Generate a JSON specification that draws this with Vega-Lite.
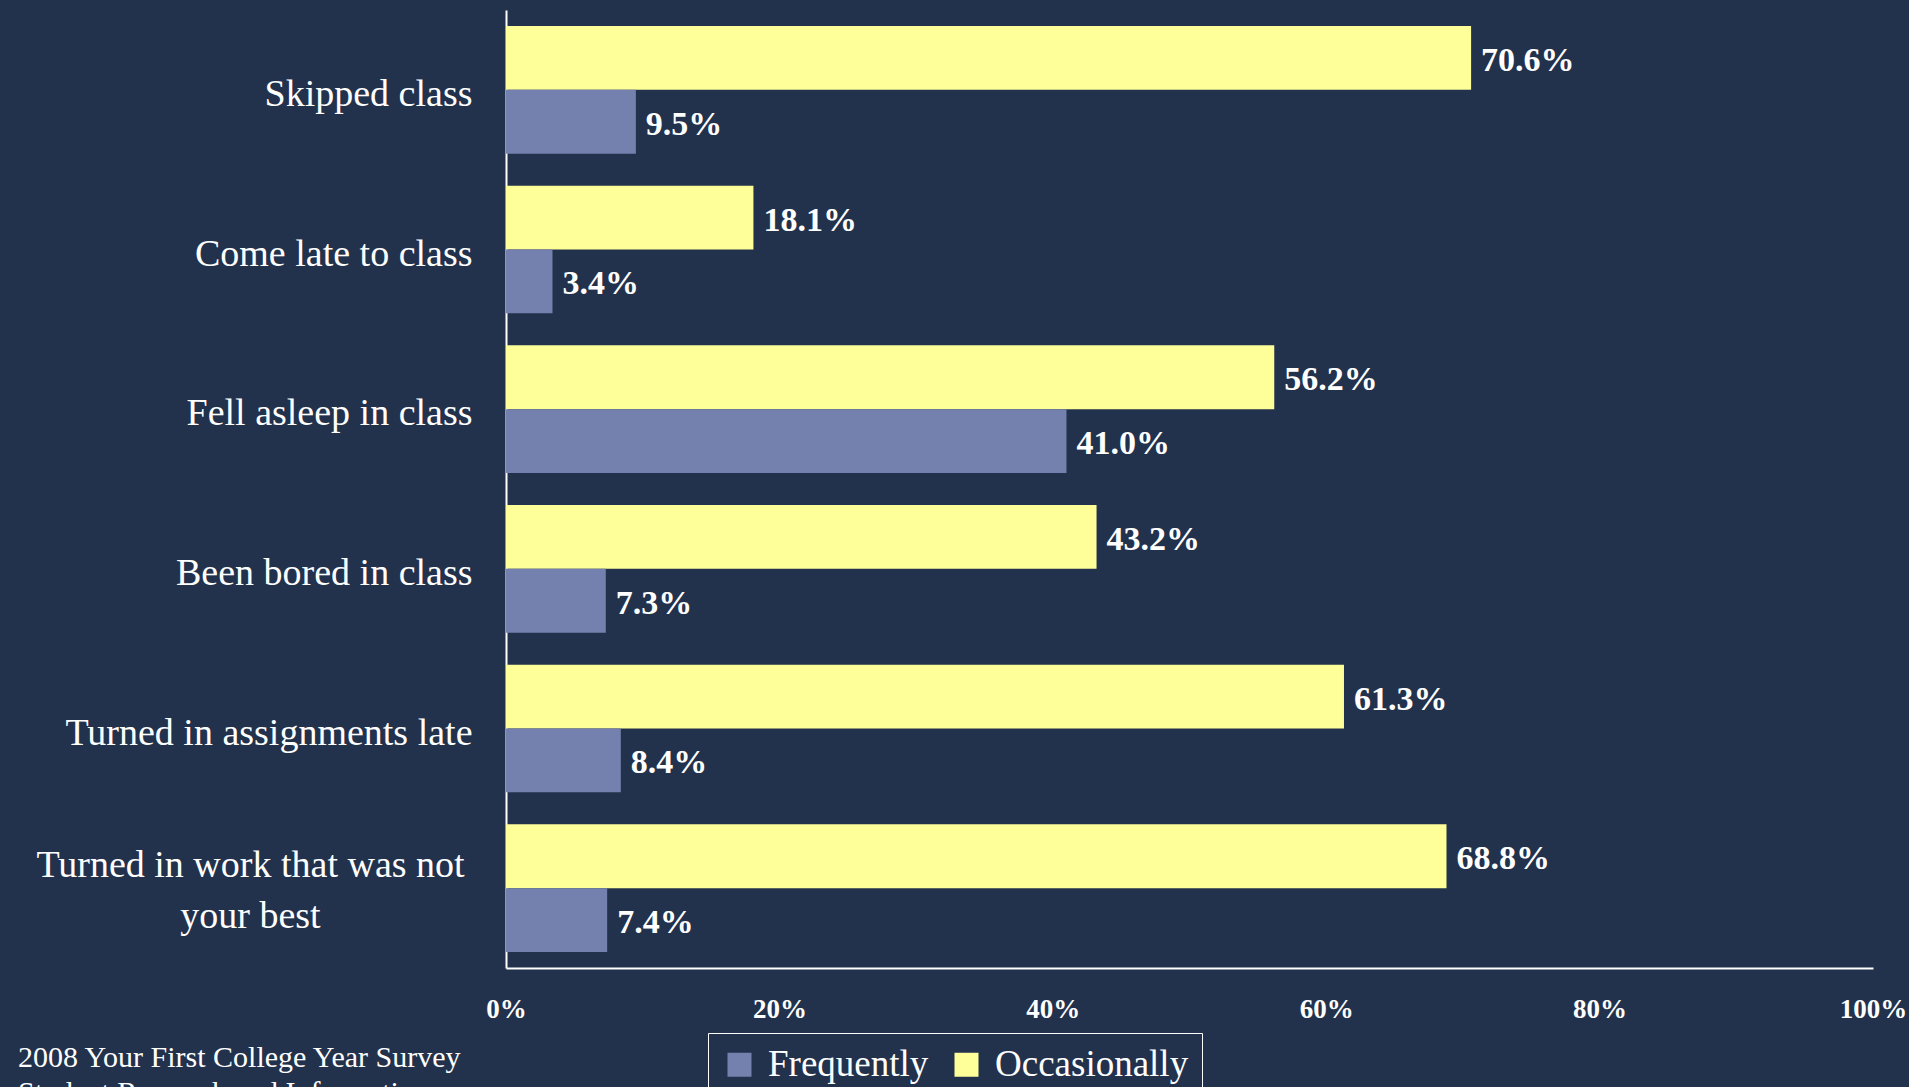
{
  "$schema": "https://vega.github.io/schema/vega-lite/v6.json",
  "background": "#22324D",
  "width": 1367,
  "height": 958,
  "autosize": {"type": "none"},
  "padding": {"left": 506, "top": 10, "right": 36, "bottom": 119},
  "config": {
    "view": {"stroke": null},
    "font": "Liberation Serif",
    "legend": {"strokeColor": "#FFFFFF"}
  },
  "title": {
    "text": ["2008 Your First College Year Survey", "Student Research and Information"],
    "orient": "bottom",
    "anchor": "start",
    "frame": "group",
    "dx": -488,
    "dy": -73,
    "offset": 19,
    "font": "Liberation Serif",
    "fontSize": 30,
    "fontWeight": "normal",
    "color": "#FFFFFF",
    "lineHeight": 35
  },
  "data": {
    "values": [
      {"category": "Skipped class", "response": "Occasionally", "value": 0.706},
      {"category": "Skipped class", "response": "Frequently", "value": 0.095},
      {"category": "Come late to class", "response": "Occasionally", "value": 0.181},
      {"category": "Come late to class", "response": "Frequently", "value": 0.034},
      {"category": "Fell asleep in class", "response": "Occasionally", "value": 0.562},
      {"category": "Fell asleep in class", "response": "Frequently", "value": 0.410},
      {"category": "Been bored in class", "response": "Occasionally", "value": 0.432},
      {"category": "Been bored in class", "response": "Frequently", "value": 0.073},
      {"category": "Turned in assignments late", "response": "Occasionally", "value": 0.613},
      {"category": "Turned in assignments late", "response": "Frequently", "value": 0.084},
      {"category": "Turned in work that was not your best", "response": "Occasionally", "value": 0.688},
      {"category": "Turned in work that was not your best", "response": "Frequently", "value": 0.074}
    ]
  },
  "encoding": {
    "y": {
      "field": "category",
      "type": "nominal",
      "sort": null,
      "scale": {"paddingInner": 0.2, "paddingOuter": 0.1},
      "axis": {
        "title": null,
        "domain": true,
        "domainColor": "#FFFFFF",
        "domainWidth": 2,
        "ticks": false,
        "labelPadding": {"condition": {"test": "datum.value == 'Turned in work that was not your best'", "value": 256}, "value": 34},
        "labelAlign": {"condition": {"test": "datum.value == 'Turned in work that was not your best'", "value": "center"}, "value": "right"},
        "labelOffset": {"condition": {"test": "datum.value == 'Turned in work that was not your best'", "value": -22}, "value": 5},
        "labelFont": "Liberation Serif",
        "labelFontSize": 38,
        "labelColor": "#FFFFFF",
        "labelLineHeight": 51,
        "labelLimit": 600,
        "labelExpr": "datum.value == 'Turned in work that was not your best' ? ['Turned in work that was not', 'your best'] : datum.value"
      }
    },
    "yOffset": {
      "field": "response",
      "type": "nominal",
      "scale": {"domain": ["Occasionally", "Frequently"], "paddingInner": 0, "paddingOuter": 0}
    },
    "x": {
      "field": "value",
      "type": "quantitative",
      "scale": {"domain": [0, 1], "nice": false},
      "axis": {
        "title": null,
        "format": ".0%",
        "values": [0, 0.2, 0.4, 0.6, 0.8, 1],
        "grid": false,
        "ticks": false,
        "domain": true,
        "domainColor": "#FFFFFF",
        "domainWidth": 2,
        "labelPadding": 28,
        "labelFont": "Liberation Serif",
        "labelFontSize": 27,
        "labelFontWeight": "bold",
        "labelColor": "#FFFFFF",
        "labelFlush": false
      }
    }
  },
  "layer": [
    {
      "mark": {"type": "bar"},
      "encoding": {
        "color": {
          "field": "response",
          "type": "nominal",
          "scale": {"domain": ["Frequently", "Occasionally"], "range": ["#7480AD", "#FFFF99"]},
          "legend": {
            "title": null,
            "orient": "none",
            "direction": "horizontal",
            "legendX": 202,
            "legendY": 1023,
            "padding": 13,
            "symbolType": "square",
            "symbolSize": 576,
            "symbolStrokeWidth": 0,
            "labelFont": "Liberation Serif",
            "labelFontSize": 37,
            "labelColor": "#FFFFFF",
            "labelOffset": 10,
            "columnPadding": 19,
            "labelLimit": 400
          }
        }
      }
    },
    {
      "mark": {
        "type": "text",
        "align": "left",
        "baseline": "middle",
        "dx": 10,
        "dy": 3,
        "font": "Liberation Serif",
        "fontSize": 34,
        "fontWeight": "bold",
        "color": "#FFFFFF"
      },
      "encoding": {
        "text": {"field": "value", "type": "quantitative", "format": ".1%"}
      }
    }
  ]
}
